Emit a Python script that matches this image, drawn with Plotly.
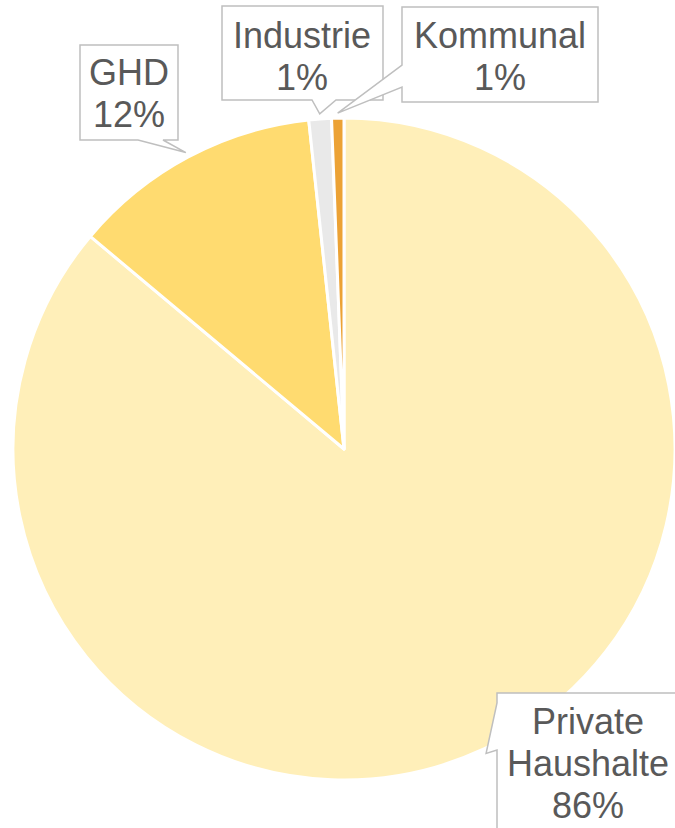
import math
import plotly.graph_objects as go

labels = ["Private Haushalte", "GHD", "Industrie", "Kommunal"]
label_lines = [["Private", "Haushalte"], ["GHD"], ["Industrie"], ["Kommunal"]]
values = [86.1, 12.2, 1.1, 0.6]
colors = ["#FFEFB9", "#FFDB70", "#E9E9E9", "#ECA235"]

W, H = 675, 828
L, R, T, B = 13, 0, 118, 48
PW, PH = W - L - R, H - T - B
CX, CY = L + PW / 2, T + PH / 2
RAD = min(PW, PH) / 2
LINE = 42


def px(x):
    return (x - L) / PW


def py(y):
    return 1 - (y - T) / PH


# tip of each callout: edge of the pie at the middle of the slice
total = sum(values)
tips = []
acc = 0
for v in values:
    mid = (acc + v / 2) / total * 2 * math.pi
    acc += v
    r = RAD * 1.015
    tips.append((CX + r * math.sin(mid), CY - r * math.cos(mid)))

# callout boxes (pixels): box, edge with the pointer, pointer base, text centre
boxes = [
    dict(box=(497, 693, 720, 880), edge="left", base=(703, 750), text=(588, 763)),
    dict(box=(80, 45, 178, 140), edge="bottom", base=(138, 163), text=(129, 93)),
    dict(box=(222, 6, 383, 100), edge="bottom", base=(312, 336), text=(302, 56)),
    dict(box=(402, 7, 598, 102), edge="left", base=(65, 87), text=(500, 56)),
]


def callout_path(box, edge, base, tip):
    x0, y0, x1, y1 = box
    pts = [(x0, y0), (x1, y0), (x1, y1)]
    if edge == "bottom":
        pts += [(base[1], y1), tip, (base[0], y1), (x0, y1)]
    else:
        pts += [(x0, y1), (x0, base[1]), tip, (x0, base[0])]
    return "M " + " L ".join(f"{px(x):.5f},{py(y):.5f}" for x, y in pts) + " Z"


fig = go.Figure()

fig.add_trace(
    go.Pie(
        labels=labels,
        values=values,
        sort=False,
        direction="clockwise",
        rotation=0,
        marker=dict(colors=colors, line=dict(color="white", width=3)),
        textinfo="none",
        hovertemplate="%{label}: %{percent}<extra></extra>",
        showlegend=False,
    )
)

for i, b in enumerate(boxes):
    fig.add_shape(
        type="path",
        xref="paper",
        yref="paper",
        path=callout_path(b["box"], b["edge"], b["base"], tips[i]),
        fillcolor="white",
        line=dict(color="#BFBFBF", width=1.5),
        layer="above",
    )
    lines = label_lines[i] + [f"{round(values[i] / total * 100)}%"]
    for k, line in enumerate(lines):
        y = b["text"][1] + (k - (len(lines) - 1) / 2) * LINE
        fig.add_annotation(
            x=px(b["text"][0]),
            y=py(y),
            xref="paper",
            yref="paper",
            xanchor="center",
            yanchor="middle",
            text=line,
            showarrow=False,
            font=dict(family="Liberation Sans, Arial, sans-serif", size=36, color="#595959"),
        )

fig.update_layout(
    width=W,
    height=H,
    margin=dict(l=L, r=R, t=T, b=B),
    paper_bgcolor="white",
    plot_bgcolor="white",
)

fig.write_html(
    "out.html",
    config={"displayModeBar": False},
    post_script="document.body.style.margin = '0';"
    "document.documentElement.style.overflow = 'hidden';",
)
